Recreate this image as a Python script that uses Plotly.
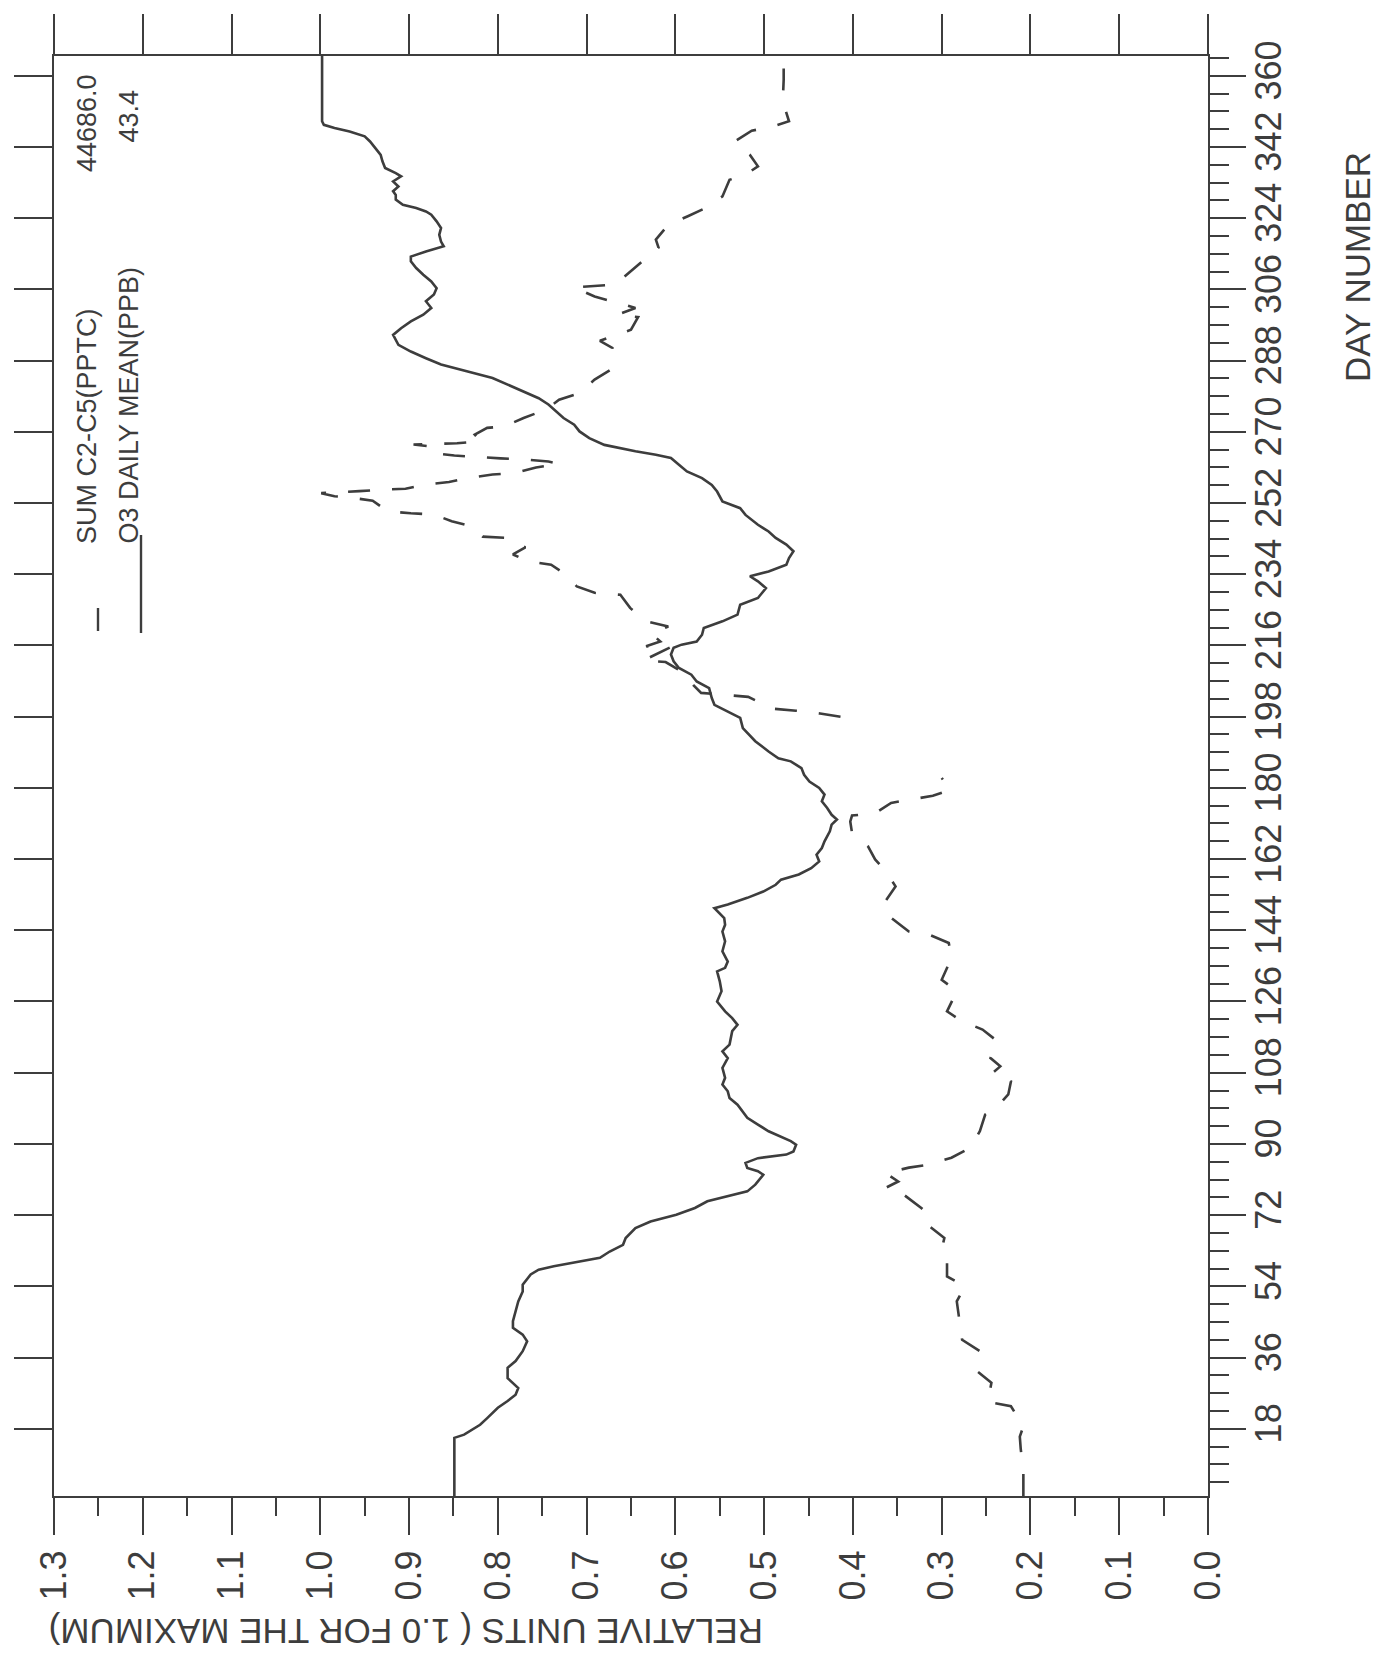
import plotly.graph_objects as go

# ---------------- data ----------------
# O3 daily mean, relative units (solid line)
o3_day = [1, 15.7, 16.5, 19, 20.7, 23.3, 25, 26.6, 28.3, 30, 30.8, 33.4, 35.1, 37.6, 40.1, 41.8,
          43.5, 45.2, 47.7, 50.2, 52.7, 54.4, 57, 58.2, 59.1, 60.3, 61.2, 62.8, 64.5, 66.2, 68.7,
          70.4, 72.1, 73.8, 75.5, 78, 79.7, 82.2, 83.1, 83.9, 85.2, 86.4, 87.3, 88.1, 89.8, 90.7,
          91.5, 92.3, 93.2, 94.9, 96.6, 99.9, 101.6, 103.3, 105, 106.7, 109.2, 111.7, 113.4,
          115.1, 118.5, 120.1, 121.8, 123.5, 126, 128.6, 131.1, 133.6, 134.5, 136.1, 138.7,
          141.2, 143.7, 145.4, 147.1, 149.6, 150.5, 152.2, 153.8, 155.5, 156.8, 158.1, 159.7,
          161.4, 163.1, 164.8, 166.5, 169, 170.7, 172, 173.2, 174.9, 176.6, 178.3, 180, 181.6,
          183.3, 185, 186.7, 187.5, 189.2, 191.8, 195.1, 197.7, 199.3, 201, 202.7, 205.2, 206.9,
          208.6, 210.3, 212, 213.7, 215.4, 216.2, 217, 218.7, 220.4, 222.1, 223.8, 226.3, 228,
          230.5, 232.2, 233.5, 234.7, 236.4, 238.1, 239.8, 241.5, 243.2, 244.8, 246.5, 249,
          250.7, 252.4, 254.9, 256.6, 258.3, 260, 261.7, 263.4, 264.2, 265.1, 266.7, 268.4,
          270.1, 271.8, 273.5, 275.2, 276.9, 278.5, 280.2, 281.9, 283.6, 285.3, 287, 288.6,
          290.3, 292, 294.5, 296.2, 297.9, 299.6, 301.3, 303, 304.7, 306.3, 308, 309.7, 311.4,
          313.1, 314.3, 315.6, 316.9, 318.1, 319.8, 321.5, 323.2, 324.9, 325.7, 326.6, 327.4,
          328.7, 329.9, 330.8, 332, 333.3, 334.6, 335.4, 336.7, 338.4, 340, 341.7, 343.4, 344.7,
          345.9, 346.8, 347.6, 348.5, 365]
o3_rel = [0.849, 0.849, 0.838, 0.820, 0.812, 0.800, 0.789, 0.780, 0.777, 0.786, 0.789, 0.789,
          0.780, 0.772, 0.767, 0.772, 0.783, 0.783, 0.780, 0.777, 0.772, 0.772, 0.763, 0.754,
          0.737, 0.708, 0.685, 0.674, 0.659, 0.656, 0.645, 0.628, 0.599, 0.578, 0.564, 0.519,
          0.510, 0.501, 0.507, 0.519, 0.521, 0.507, 0.475, 0.467, 0.464, 0.470, 0.478, 0.484,
          0.495, 0.507, 0.519, 0.530, 0.539, 0.541, 0.547, 0.544, 0.547, 0.541, 0.547, 0.539,
          0.536, 0.530, 0.536, 0.544, 0.553, 0.548, 0.550, 0.553, 0.544, 0.541, 0.547, 0.544,
          0.547, 0.544, 0.545, 0.556, 0.541, 0.519, 0.501, 0.487, 0.481, 0.461, 0.447, 0.438,
          0.441, 0.435, 0.432, 0.426, 0.424, 0.418, 0.424, 0.429, 0.435, 0.432, 0.438, 0.449,
          0.455, 0.458, 0.470, 0.484, 0.495, 0.510, 0.524, 0.527, 0.541, 0.556, 0.559, 0.562,
          0.576, 0.582, 0.596, 0.602, 0.605, 0.602, 0.593, 0.576, 0.570, 0.568, 0.547, 0.530,
          0.527, 0.507, 0.498, 0.507, 0.516, 0.495, 0.475, 0.472, 0.467, 0.475, 0.487, 0.495,
          0.507, 0.521, 0.527, 0.547, 0.553, 0.559, 0.570, 0.587, 0.596, 0.605, 0.622, 0.645,
          0.680, 0.697, 0.708, 0.714, 0.726, 0.734, 0.743, 0.754, 0.772, 0.789, 0.806, 0.835,
          0.864, 0.881, 0.898, 0.912, 0.918, 0.909, 0.898, 0.884, 0.875, 0.881, 0.872, 0.869,
          0.875, 0.884, 0.892, 0.898, 0.898, 0.881, 0.861, 0.864, 0.866, 0.864, 0.869, 0.875,
          0.881, 0.892, 0.907, 0.915, 0.915, 0.918, 0.912, 0.918, 0.909, 0.915, 0.927, 0.930,
          0.932, 0.938, 0.944, 0.950, 0.967, 0.984, 0.996, 0.998, 0.998]

# Sum C2-C5, relative units (dashed line); None = missing days
hc_day = [1, 7, 13, 16, 18.6, 23.7, 24.8, 29.6, 32.5, 37.6, 40.5, 45.2, 50.2, 54, 56.5, 60.3,
          63.3, 66.2, 69.2, 72, 73.8, 77.2, 78.9, 80.5, 82.6, 84, 84.8, 86.5, 89, 93.2, 97.4,
          99.5, 102.5, 105.8, 107.9, 109.6, 111.7, 115.9, 118.9, 121, 123.5, 128.6, 131.5, 137,
          140.8, 142.9, 143.7, 147, 150.5, 155.1, 158.9, 161.9, 165.2, 168.6, 171.5, 173, 173.6,
          176.2, 177, 178, 179.5, 182.5, 190, 198, 198.8, 199.5, 200, 203, 204, 206, 209,
          211.8, 212.2, 215.5, 215.8, 217, 219, 220.8, 222.1, 225.5, 228.8, 229.3, 230.9, 233.9,
          236.4, 237.3, 239, 240.8, 243.2, 243.5, 246.1, 247.4, 249.1, 249.4, 249.9, 252.6,
          253.4, 253.7, 254.5, 255.0, 255.4, 255.6, 256.6, 257.3, 258.3, 259.2, 259.6, 261.0,
          261.9, 262.5, 263.0, 263.3, 263.7, 264.0, 264.6, 266.2, 266.8, 267.1, 267.6, 269.3,
          271.0, 271.4, 273.5, 275.6, 278.1, 279.8, 283.2, 285.7, 291.2, 293.0, 295.8, 299.0,
          299.6, 301.3, 302.6, 304.2, 306.5, 306.8, 307.2, 308.9, 312.2, 314.3, 316.6, 318.6,
          322.3, 324.5, 326.7, 329.5, 333.7, 335.0, 337.1, 340.0, 343.4, 346.1, 347.2, 348.5,
          353.5, 359.0, 365]
hc_rel = [0.208, 0.208, 0.211, 0.212, 0.208, 0.222, 0.248, 0.244, 0.260, 0.257, 0.277, 0.280,
          0.283, 0.274, 0.294, 0.294, 0.300, 0.297, 0.314, 0.314, 0.323, 0.343, 0.363, 0.349,
          0.363, 0.337, 0.314, 0.289, 0.268, 0.257, 0.251, 0.237, 0.225, 0.222, 0.243, 0.234,
          0.245, 0.237, 0.254, 0.277, 0.294, 0.283, 0.300, 0.289, 0.292, 0.314, 0.337, 0.356,
          0.366, 0.352, 0.363, 0.375, 0.383, 0.401, 0.403, 0.401, 0.375, 0.357, 0.334, 0.310,
          0.290, 0.300, None, 0.414, 0.437, 0.464, 0.490, 0.518, 0.571, 0.580, 0.590, 0.611,
          0.636, 0.606, 0.633, 0.617, 0.627, 0.608, 0.633, 0.651, 0.662, 0.691, 0.711, 0.723,
          0.740, 0.766, 0.783, 0.769, 0.789, 0.817, 0.829, 0.852, 0.872, 0.898, 0.924, 0.941,
          0.967, 0.984, 0.999, 0.956, 0.930, 0.904, 0.884, 0.855, 0.835, 0.806, 0.780, 0.757,
          0.731, 0.743, 0.769, 0.797, 0.823, 0.849, 0.872, 0.873, 0.895, 0.846, 0.819, 0.826,
          0.812, 0.792, 0.771, 0.746, 0.731, 0.708, 0.691, 0.673, 0.671, 0.685, 0.650, 0.642,
          0.665, 0.645, 0.665, 0.691, 0.714, 0.694, 0.671, 0.659, 0.642, 0.631, 0.619, 0.622,
          0.608, 0.586, 0.565, 0.547, 0.539, 0.521, 0.507, 0.516, 0.533, 0.514, 0.490, 0.472,
          0.479, 0.478, 0.478]

value_ticks = [0.0, 0.1, 0.2, 0.3, 0.4, 0.5, 0.6, 0.7, 0.8, 0.9, 1.0, 1.1, 1.2, 1.3]
value_labels = ["0.0", "0.1", "0.2", "0.3", "0.4", "0.5", "0.6", "0.7", "0.8", "0.9",
                "1.0", "1.1", "1.2", "1.3"]
day_ticks = [18, 36, 54, 72, 90, 108, 126, 144, 162, 180, 198, 216, 234, 252, 270, 288, 306,
             324, 342, 360]
day_labels = [str(d) for d in day_ticks]

legend_names = ["SUM C2-C5(PPTC)", "O3 DAILY MEAN(PPB)"]
legend_maxima = ["44686.0", "43.4"]

# ---------------- style ----------------
FONT = "Liberation Sans, Arial, sans-serif"
INK = "#3d3d3d"

fig = go.Figure()
fig.add_trace(go.Scatter(x=o3_rel, y=o3_day, mode="lines", name=legend_names[1],
                         line=dict(color=INK, width=2.6), hoverinfo="skip"))
fig.add_trace(go.Scatter(x=hc_rel, y=hc_day, mode="lines", name=legend_names[0],
                         connectgaps=False,
                         line=dict(color=INK, width=2.6, dash="22px,22px"), hoverinfo="skip"))
# carrier trace for the mirrored (top/left) axes
fig.add_trace(go.Scatter(x=[None], y=[None], xaxis="x2", yaxis="y2", mode="lines",
                         showlegend=False, hoverinfo="skip"))

common = dict(showgrid=False, zeroline=False, showline=True, linewidth=2, linecolor=INK,
              tickcolor=INK, tickwidth=1.6, ticks="outside", fixedrange=True)

fig.update_layout(
    width=1385, height=1664,
    margin=dict(l=46, r=185, t=48, b=176, autoexpand=False),
    paper_bgcolor="white", plot_bgcolor="white",
    showlegend=False,
    xaxis=dict(range=[1.3, 0.0], tickmode="array", tickvals=value_ticks, ticktext=value_labels,
               ticklen=37, tickangle=-90, ticklabelstandoff=1,
               tickfont=dict(family=FONT, size=36, color=INK),
               minor=dict(tickmode="linear", tick0=0, dtick=0.05, ticks="outside", ticklen=18,
                          tickwidth=1.6, tickcolor=INK, showgrid=False),
               **common),
    xaxis2=dict(range=[1.3, 0.0], overlaying="x", side="top", tickmode="array",
                tickvals=value_ticks, showticklabels=False, ticklen=40, **common),
    yaxis=dict(range=[1, 365], side="right", tickmode="array", tickvals=day_ticks,
               ticktext=day_labels, ticklen=36, tickangle=-90, ticklabelstandoff=-8,
               tickfont=dict(family=FONT, size=36, color=INK),
               minor=dict(tickmode="linear", tick0=0, dtick=4.5, ticks="outside", ticklen=19,
                          tickwidth=1.6, tickcolor=INK, showgrid=False),
               **common),
    yaxis2=dict(range=[1, 365], overlaying="y", side="left", tickmode="array",
                tickvals=day_ticks, showticklabels=False, ticklen=38, **common),
)

# paper-coordinate helpers (plot area: x 46..1200, y 48..1488 px)
def px(xp):
    return (xp - 46) / 1154.0

def py(yp):
    return (1488 - yp) / 1440.0

ann_font = dict(family=FONT, size=27, color=INK)
annotations = [
    dict(text="DAY NUMBER", x=px(1349), y=py(259), textangle=-90,
         font=dict(family=FONT, size=35, color=INK)),
    dict(text="RELATIVE UNITS ( 1.0 FOR THE MAXIMUM)", x=px(398), y=py(1624), textangle=180,
         font=dict(family=FONT, size=35, color=INK)),
    dict(text=legend_names[0], x=px(79), y=py(538), yanchor="bottom", textangle=-90, font=ann_font),
    dict(text=legend_names[1], x=px(120), y=py(538), yanchor="bottom", textangle=-90, font=ann_font),
    dict(text=legend_maxima[0], x=px(79), y=py(64), yanchor="top", textangle=-90, font=ann_font),
    dict(text=legend_maxima[1], x=px(120), y=py(80), yanchor="top", textangle=-90, font=ann_font),
]
for a in annotations:
    a.update(xref="paper", yref="paper", showarrow=False,
             xanchor=a.get("xanchor", "center"), yanchor=a.get("yanchor", "middle"))
fig.update_layout(annotations=annotations)

# legend line samples
fig.add_shape(type="line", xref="paper", yref="paper", x0=px(90), x1=px(90), y0=py(623),
              y1=py(600), line=dict(color=INK, width=2.4))
fig.add_shape(type="line", xref="paper", yref="paper", x0=px(133), x1=px(133), y0=py(625),
              y1=py(527), line=dict(color=INK, width=2.4))

fig.write_html("out.html")
